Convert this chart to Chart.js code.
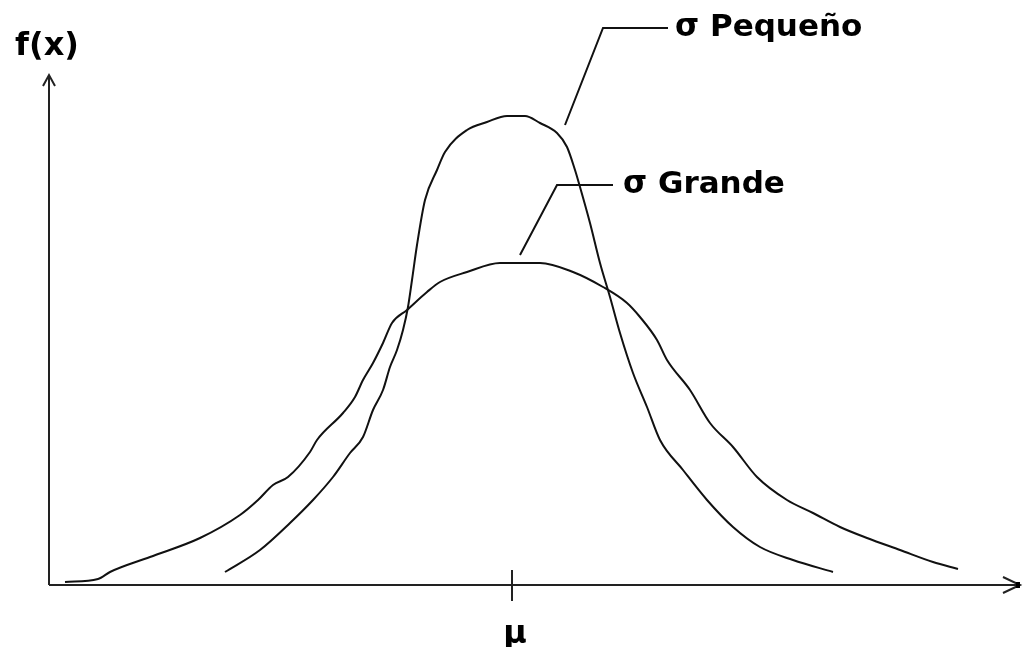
<!DOCTYPE html>
<html lang="es">
<head>
  <meta charset="UTF-8">
  <title>Distribución normal - σ pequeño y σ grande</title>
  <script src="https://cdn.jsdelivr.net/npm/chart.js"></script>
  <style>
    html, body {
      margin: 0;
      padding: 0;
      background: #ffffff;
    }
    .chart-container {
      width: 1023px;
      height: 647px;
    }
  </style>
</head>
<body>
  <div class="chart-container">
    <canvas id="normalChart"></canvas>
  </div>

  <script>
    const bigSigmaX = [-447, -414, -402, -362, -312, -272, -254, -239, -224, -202, -195, -169, -157, -149, -139, -129, -120, -105, -85, -72, -45, -12, 28, 61, 91, 115, 128, 145, 155, 178, 198, 221, 245, 275, 301, 328, 355, 388, 421, 446];
    const bigSigmaY = [3, 6, 13, 28, 47, 70, 85, 100, 108, 133, 145, 172, 188, 205, 222, 242, 262, 275, 293, 303, 313, 322, 322, 313, 298, 282, 268, 245, 225, 195, 162, 138, 108, 85, 72, 58, 47, 35, 23, 16];

    const smallSigmaX = [-287, -252, -222, -199, -179, -162, -149, -139, -129, -122, -115, -109, -104, -100, -95, -87, -75, -67, -45, -25, -5, 13, 28, 45, 55, 63, 68, 78, 88, 98, 108, 121, 135, 148, 171, 195, 221, 248, 281, 321];
    const smallSigmaY = [13, 35, 62, 85, 108, 132, 148, 175, 195, 218, 235, 255, 278, 305, 340, 385, 415, 433, 455, 463, 469, 469, 462, 452, 438, 415, 398, 362, 322, 288, 252, 212, 178, 145, 115, 85, 58, 38, 25, 13];

    // Leader lines to the labels
    const pequenoLeaderX = [53, 91, 156];
    const pequenoLeaderY = [460, 557, 557];
    const grandeLeaderX = [8, 45, 101];
    const grandeLeaderY = [330, 400, 400];

    const labels = ['σ Pequeño', 'σ Grande'];
    const labelX = [163, 111];
    const labelY = [557, 400];

    const xMin = -463, xMax = 508;
    const yMin = 0, yMax = 510;

    function toPoints(xs, ys) {
      return xs.map((x, i) => ({ x: x, y: ys[i] }));
    }

    const ink = '#111111';

    // Draws the axes with arrows, the mu tick and all the text
    const sketchPlugin = {
      id: 'sketch',
      beforeDatasetsDraw(chart) {
        const ctx = chart.ctx;
        const xs = chart.scales.x, ys = chart.scales.y;
        const x0 = xs.getPixelForValue(xMin);
        const x1 = xs.getPixelForValue(xMax);
        const y0 = ys.getPixelForValue(yMin);
        const y1 = ys.getPixelForValue(yMax);
        const mu = xs.getPixelForValue(0);

        ctx.save();
        ctx.strokeStyle = '#222222';
        ctx.lineWidth = 2;
        ctx.beginPath();
        ctx.moveTo(x0, y0);
        ctx.lineTo(x1, y0);
        ctx.moveTo(x0, y0);
        ctx.lineTo(x0, y1);
        // y arrow
        ctx.moveTo(x0 - 6, y1 + 11);
        ctx.lineTo(x0, y1);
        ctx.lineTo(x0 + 6, y1 + 11);
        // x arrow
        ctx.moveTo(x1 - 17, y0 - 8);
        ctx.lineTo(x1, y0);
        ctx.lineTo(x1 - 17, y0 + 8);
        // mu tick
        ctx.moveTo(mu, y0 - 15);
        ctx.lineTo(mu, y0 + 16);
        ctx.stroke();

        ctx.fillStyle = '#000000';
        ctx.fillRect(x1 - 4, y0 - 3, 4, 6);

        ctx.font = 'bold 32px "DejaVu Sans"';
        ctx.textBaseline = 'middle';
        ctx.textAlign = 'center';
        ctx.fillText('f(x)', x0 - 2, y1 - 28);
        ctx.fillText('μ', mu + 3, y0 + 50);

        ctx.font = 'bold 31px "DejaVu Sans"';
        ctx.textAlign = 'left';
        labels.forEach((t, i) => {
          ctx.fillText(t, xs.getPixelForValue(labelX[i]), ys.getPixelForValue(labelY[i]));
        });
        ctx.restore();
      }
    };

    function curve(label, xs, ys, smooth) {
      return {
        label: label,
        data: toPoints(xs, ys),
        showLine: true,
        borderColor: ink,
        borderWidth: 2,
        pointRadius: 0,
        cubicInterpolationMode: smooth ? 'monotone' : 'default',
        tension: 0,
        fill: false,
        clip: false
      };
    }

    new Chart(document.getElementById('normalChart').getContext('2d'), {
      type: 'scatter',
      data: {
        datasets: [
          curve('σ Grande', bigSigmaX, bigSigmaY, true),
          curve('σ Pequeño', smallSigmaX, smallSigmaY, true),
          curve('leader pequeño', pequenoLeaderX, pequenoLeaderY, false),
          curve('leader grande', grandeLeaderX, grandeLeaderY, false)
        ]
      },
      options: {
        responsive: true,
        maintainAspectRatio: false,
        animation: false,
        layout: {
          padding: { left: 49, right: 3, top: 75, bottom: 62 }
        },
        plugins: {
          legend: { display: false },
          tooltip: { enabled: false }
        },
        scales: {
          x: { type: 'linear', min: xMin, max: xMax, display: false },
          y: { type: 'linear', min: yMin, max: yMax, display: false }
        }
      },
      plugins: [sketchPlugin]
    });
  </script>
</body>
</html>
